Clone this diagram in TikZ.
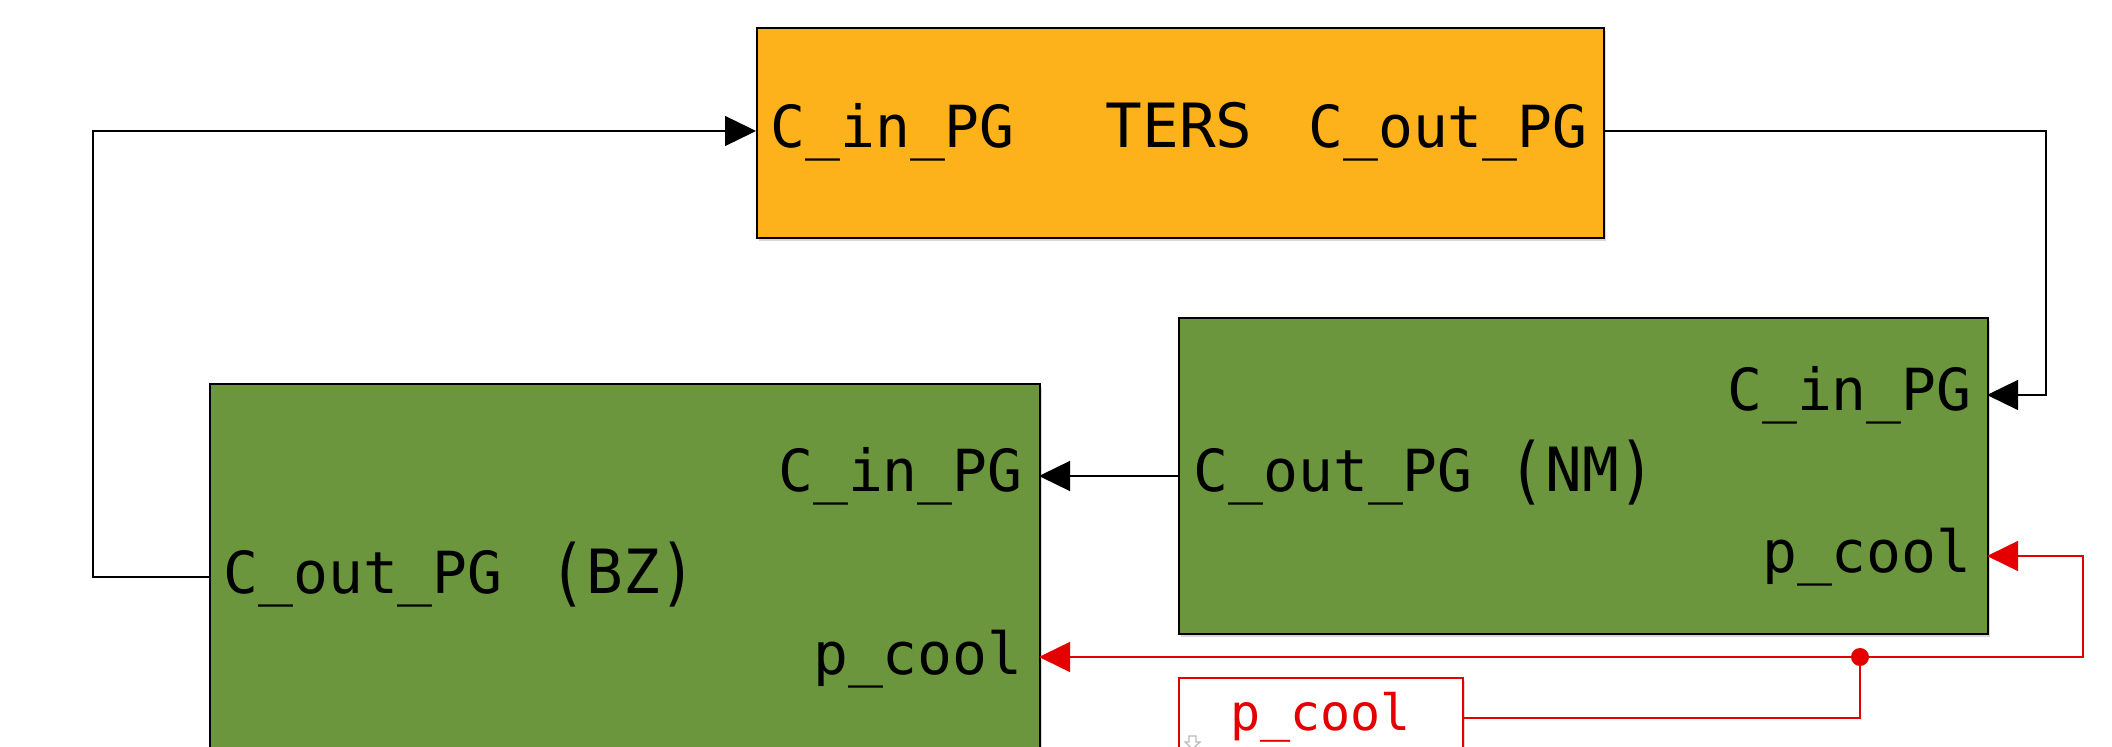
\documentclass[tikz,border=0pt]{standalone}
\usepackage{fontspec}
\usepackage[usenames,dvipsnames,x11names,rgb]{xcolor}
\usepackage{tikz}
\usetikzlibrary{arrows.meta, shadows}

\newfontfamily\slmono{DejaVu Sans Mono}
\newcommand{\portsize}{\slmono\fontsize{29}{34}\selectfont}
\newcommand{\namesize}{\slmono\fontsize{30.5}{36}\selectfont}
\newcommand{\gotosize}{\slmono\fontsize{25}{30}\selectfont}
\newcommand{\tallparen}[1]{\raisebox{-2pt}{\scalebox{1}[1.2]{#1}}}

\definecolor{tersorange}{RGB}{253,177,26}
\definecolor{subgreen}{RGB}{107,150,61}
\definecolor{coolred}{RGB}{228,0,0}

\tikzset{
    block/.style={draw=black, line width=1pt, anchor=north west, inner sep=0pt,
        drop shadow={shadow xshift=1.2pt, shadow yshift=-1.5pt, opacity=0.3}},
    portl/.style={anchor=base west, inner sep=0pt, font=\portsize},
    portr/.style={anchor=base east, inner sep=0pt, font=\portsize},
    sig/.style={black, line width=0.7pt, -{Triangle[length=15.5pt, width=15pt]}},
    coolsig/.style={coolred, line width=0.8pt, -{Triangle[length=15.5pt, width=15pt]}},
}

\begin{document}
\begin{tikzpicture}[x=0.5pt, y=-0.5pt]
        \clip (0, 0) rectangle (2112, 747);
        \fill[white] (0, 0) rectangle (2112, 747);

        \node (ters) at (756, 27)[block, fill=tersorange, minimum width=423.5pt, minimum height=105pt] {};
        \node (tersinl) at (770, 148)[portl] {C\_in\_PG};
        \node (tersname) at (1179, 148)[anchor=base, inner sep=0pt, font=\namesize] {TERS};
        \node (tersoutl) at (1588, 148)[portr] {C\_out\_PG};

        \node (nm) at (1178, 317)[block, fill=subgreen, minimum width=404.5pt, minimum height=158pt] {};
        \node (nminl) at (1972, 411)[portr] {C\_in\_PG};
        \node (nmoutl) at (1193, 492)[portl] {C\_out\_PG\hspace{18pt}{\namesize\tallparen{(}NM\tallparen{)}}};
        \node (nmcooll) at (1972, 573)[portr] {p\_cool};

        \node (bz) at (209, 383)[block, fill=subgreen, minimum width=415pt, minimum height=220pt] {};
        \node (bzinl) at (1023, 492)[portr] {C\_in\_PG};
        \node (bzoutl) at (223, 593)[portl] {C\_out\_PG\hspace{23.5pt}{\namesize\tallparen{(}BZ\tallparen{)}}};
        \node (bzcooll) at (1023, 674)[portr] {p\_cool};

        \node (cool) at (1178, 677)[block, draw=coolred, fill=white, minimum width=142pt, minimum height=40pt] {};
        \node (cooll) at (1230, 730)[anchor=base west, inner sep=0pt, font=\gotosize, text=coolred] {p\_cool};
        \draw[gray!55, line width=0.6pt] (1189, 736) -- (1189, 742) -- (1185, 742) -- (1192.5, 749) -- (1200, 742) -- (1196, 742) -- (1196, 736) -- cycle;

        \coordinate (tersin) at (756, 131);
        \coordinate (tersout) at (1603, 131);
        \coordinate (nmin) at (1987, 395);
        \coordinate (nmout) at (1178, 476);
        \coordinate (nmcool) at (1987, 556);
        \coordinate (bzin) at (1039, 476);
        \coordinate (bzout) at (209, 577);
        \coordinate (bzcool) at (1039, 657);
        \coordinate (split) at (1860, 657);

        \draw[sig] (bzout) -- ++(-116, 0) |- (tersin);
        \draw[sig] (tersout) -- ++(443, 0) |- (nmin);
        \draw[sig] (nmout) -- (bzin);

        \draw[coolred, line width=0.8pt] (cool.east) -| (split);
        \draw[coolsig] (split) -- (bzcool);
        \draw[coolsig] (split) -- ++(223, 0) |- (nmcool);
        \fill[coolred] (split) circle (4.5pt);
    \end{tikzpicture}
\end{document}
